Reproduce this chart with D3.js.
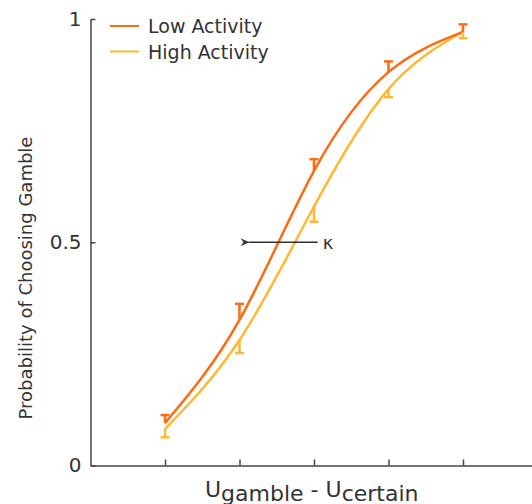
<!DOCTYPE html>
<html>
<head>
<meta charset="utf-8">
<script src="https://cdn.jsdelivr.net/npm/d3@7"></script>
<style>
  body { margin: 0; background: #fff; }
  text { font-family: "DejaVu Sans", Verdana, sans-serif; fill: #333; }
</style>
</head>
<body>
<div id="chart"></div>
<script>
var width = 532, height = 504;

// data
var xLevels = [1, 2, 3, 4, 5];
var lowMean = [0.095, 0.326, 0.660, 0.881, 0.971];
var lowUpper = [0.113, 0.362, 0.686, 0.905, 0.988];
var highMean = [0.082, 0.281, 0.580, 0.843, 0.972];
var highLower = [0.063, 0.252, 0.546, 0.825, 0.957];
var yTicks = [0, 0.5, 1];
var yTickLabels = ["0", "0.5", "1"];
var seriesNames = ["Low Activity", "High Activity"];
var colors = ["#ff6a13", "#ffb833"];
// kappa shift arrow (x from, x to, at p = 0.5)
var arrowFrom = 3.05, arrowTo = 2.0, arrowY = 0.5;

var svg = d3.select("#chart").append("svg")
    .attr("width", width)
    .attr("height", height);

var defs = svg.append("defs");
defs.append("marker")
    .attr("id", "head")
    .attr("viewBox", "0 0 10 10")
    .attr("refX", 1).attr("refY", 5)
    .attr("markerWidth", 10).attr("markerHeight", 9)
    .attr("markerUnits", "userSpaceOnUse")
    .attr("orient", "auto-start-reverse")
    .append("path")
    .attr("d", "M0,5 L10,0.5 L6.5,5 L10,9.5 Z")
    .attr("fill", "#333");

var x = d3.scaleLinear().domain([0, 6]).range([90.5, 537.5]);
var y = d3.scaleLinear().domain([0, 1]).range([465.5, 19]);

// axes
svg.append("g")
    .attr("transform", "translate(0,465.5)")
    .call(d3.axisBottom(x).tickValues(xLevels).tickSize(-6).tickSizeOuter(0).tickFormat(""))
    .call(g => g.selectAll("path, line").attr("stroke", "#444").attr("stroke-width", 1.5));

var yAxis = svg.append("g")
    .attr("transform", "translate(90.5,0)")
    .call(d3.axisLeft(y).tickValues(yTicks).tickSize(-5).tickSizeOuter(0)
        .tickFormat(function(d, i) { return yTickLabels[i]; }))
    .call(g => g.selectAll("path, line").attr("stroke", "#444").attr("stroke-width", 1.5));
yAxis.selectAll("text")
    .attr("x", -9)
    .attr("font-size", "20px")
    .attr("font-family", "DejaVu Sans, sans-serif")
    .attr("fill", "#333");

// curves
var line = d3.line()
    .x(function(d) { return x(d[0]); })
    .y(function(d) { return y(d[1]); })
    .curve(d3.curveNatural);

var lowPts = xLevels.map(function(v, i) { return [v, lowMean[i]]; });
var highPts = xLevels.map(function(v, i) { return [v, highMean[i]]; });

svg.append("path").datum(highPts)
    .attr("d", line).attr("fill", "none")
    .attr("stroke", colors[1]).attr("stroke-width", 2.5);
svg.append("path").datum(lowPts)
    .attr("d", line).attr("fill", "none")
    .attr("stroke", colors[0]).attr("stroke-width", 2.5);

// error bars (one sided)
function errBars(mean, bound, color) {
  var g = svg.append("g").attr("stroke", color).attr("stroke-width", 2.5);
  g.selectAll("line.v").data(xLevels).enter().append("line")
      .attr("x1", function(d) { return x(d); })
      .attr("x2", function(d) { return x(d); })
      .attr("y1", function(d, i) { return y(mean[i]); })
      .attr("y2", function(d, i) { return y(bound[i]); });
  g.selectAll("line.c").data(xLevels).enter().append("line")
      .attr("x1", function(d) { return x(d) - 4.5; })
      .attr("x2", function(d) { return x(d) + 4.5; })
      .attr("y1", function(d, i) { return y(bound[i]); })
      .attr("y2", function(d, i) { return y(bound[i]); });
}
errBars(highMean, highLower, colors[1]);
errBars(lowMean, lowUpper, colors[0]);

// kappa arrow
svg.append("line")
    .attr("x1", x(arrowFrom)).attr("x2", x(arrowTo) + 9)
    .attr("y1", y(arrowY)).attr("y2", y(arrowY))
    .attr("stroke", "#333").attr("stroke-width", 1.5)
    .attr("marker-end", "url(#head)");
svg.append("text")
    .attr("x", x(arrowFrom) + 5)
    .attr("y", y(arrowY) + 6.5)
    .attr("font-size", "18px")
    .text("κ");

// legend
var leg = svg.append("g").selectAll("g").data(seriesNames).enter().append("g")
    .attr("transform", function(d, i) { return "translate(0," + (26 + i * 25.5) + ")"; });
leg.append("line")
    .attr("x1", 110).attr("x2", 139)
    .attr("stroke", function(d, i) { return colors[i]; })
    .attr("stroke-width", 2);
leg.append("text")
    .attr("x", 148).attr("y", 7)
    .attr("font-size", "19px")
    .text(function(d) { return d; });

// axis titles
svg.append("text")
    .attr("transform", "translate(32,278) rotate(-90)")
    .attr("text-anchor", "middle")
    .attr("font-size", "18px")
    .text("Probability of Choosing Gamble");

var xt = svg.append("text")
    .attr("x", 205).attr("y", 496.5)
    .attr("font-size", "22px");
xt.append("tspan").text("U");
xt.append("tspan").attr("dy", 4).text("gamble");
xt.append("tspan").attr("dy", -4).text(" - U");
xt.append("tspan").attr("dy", 4).text("certain");
</script>
</body>
</html>
